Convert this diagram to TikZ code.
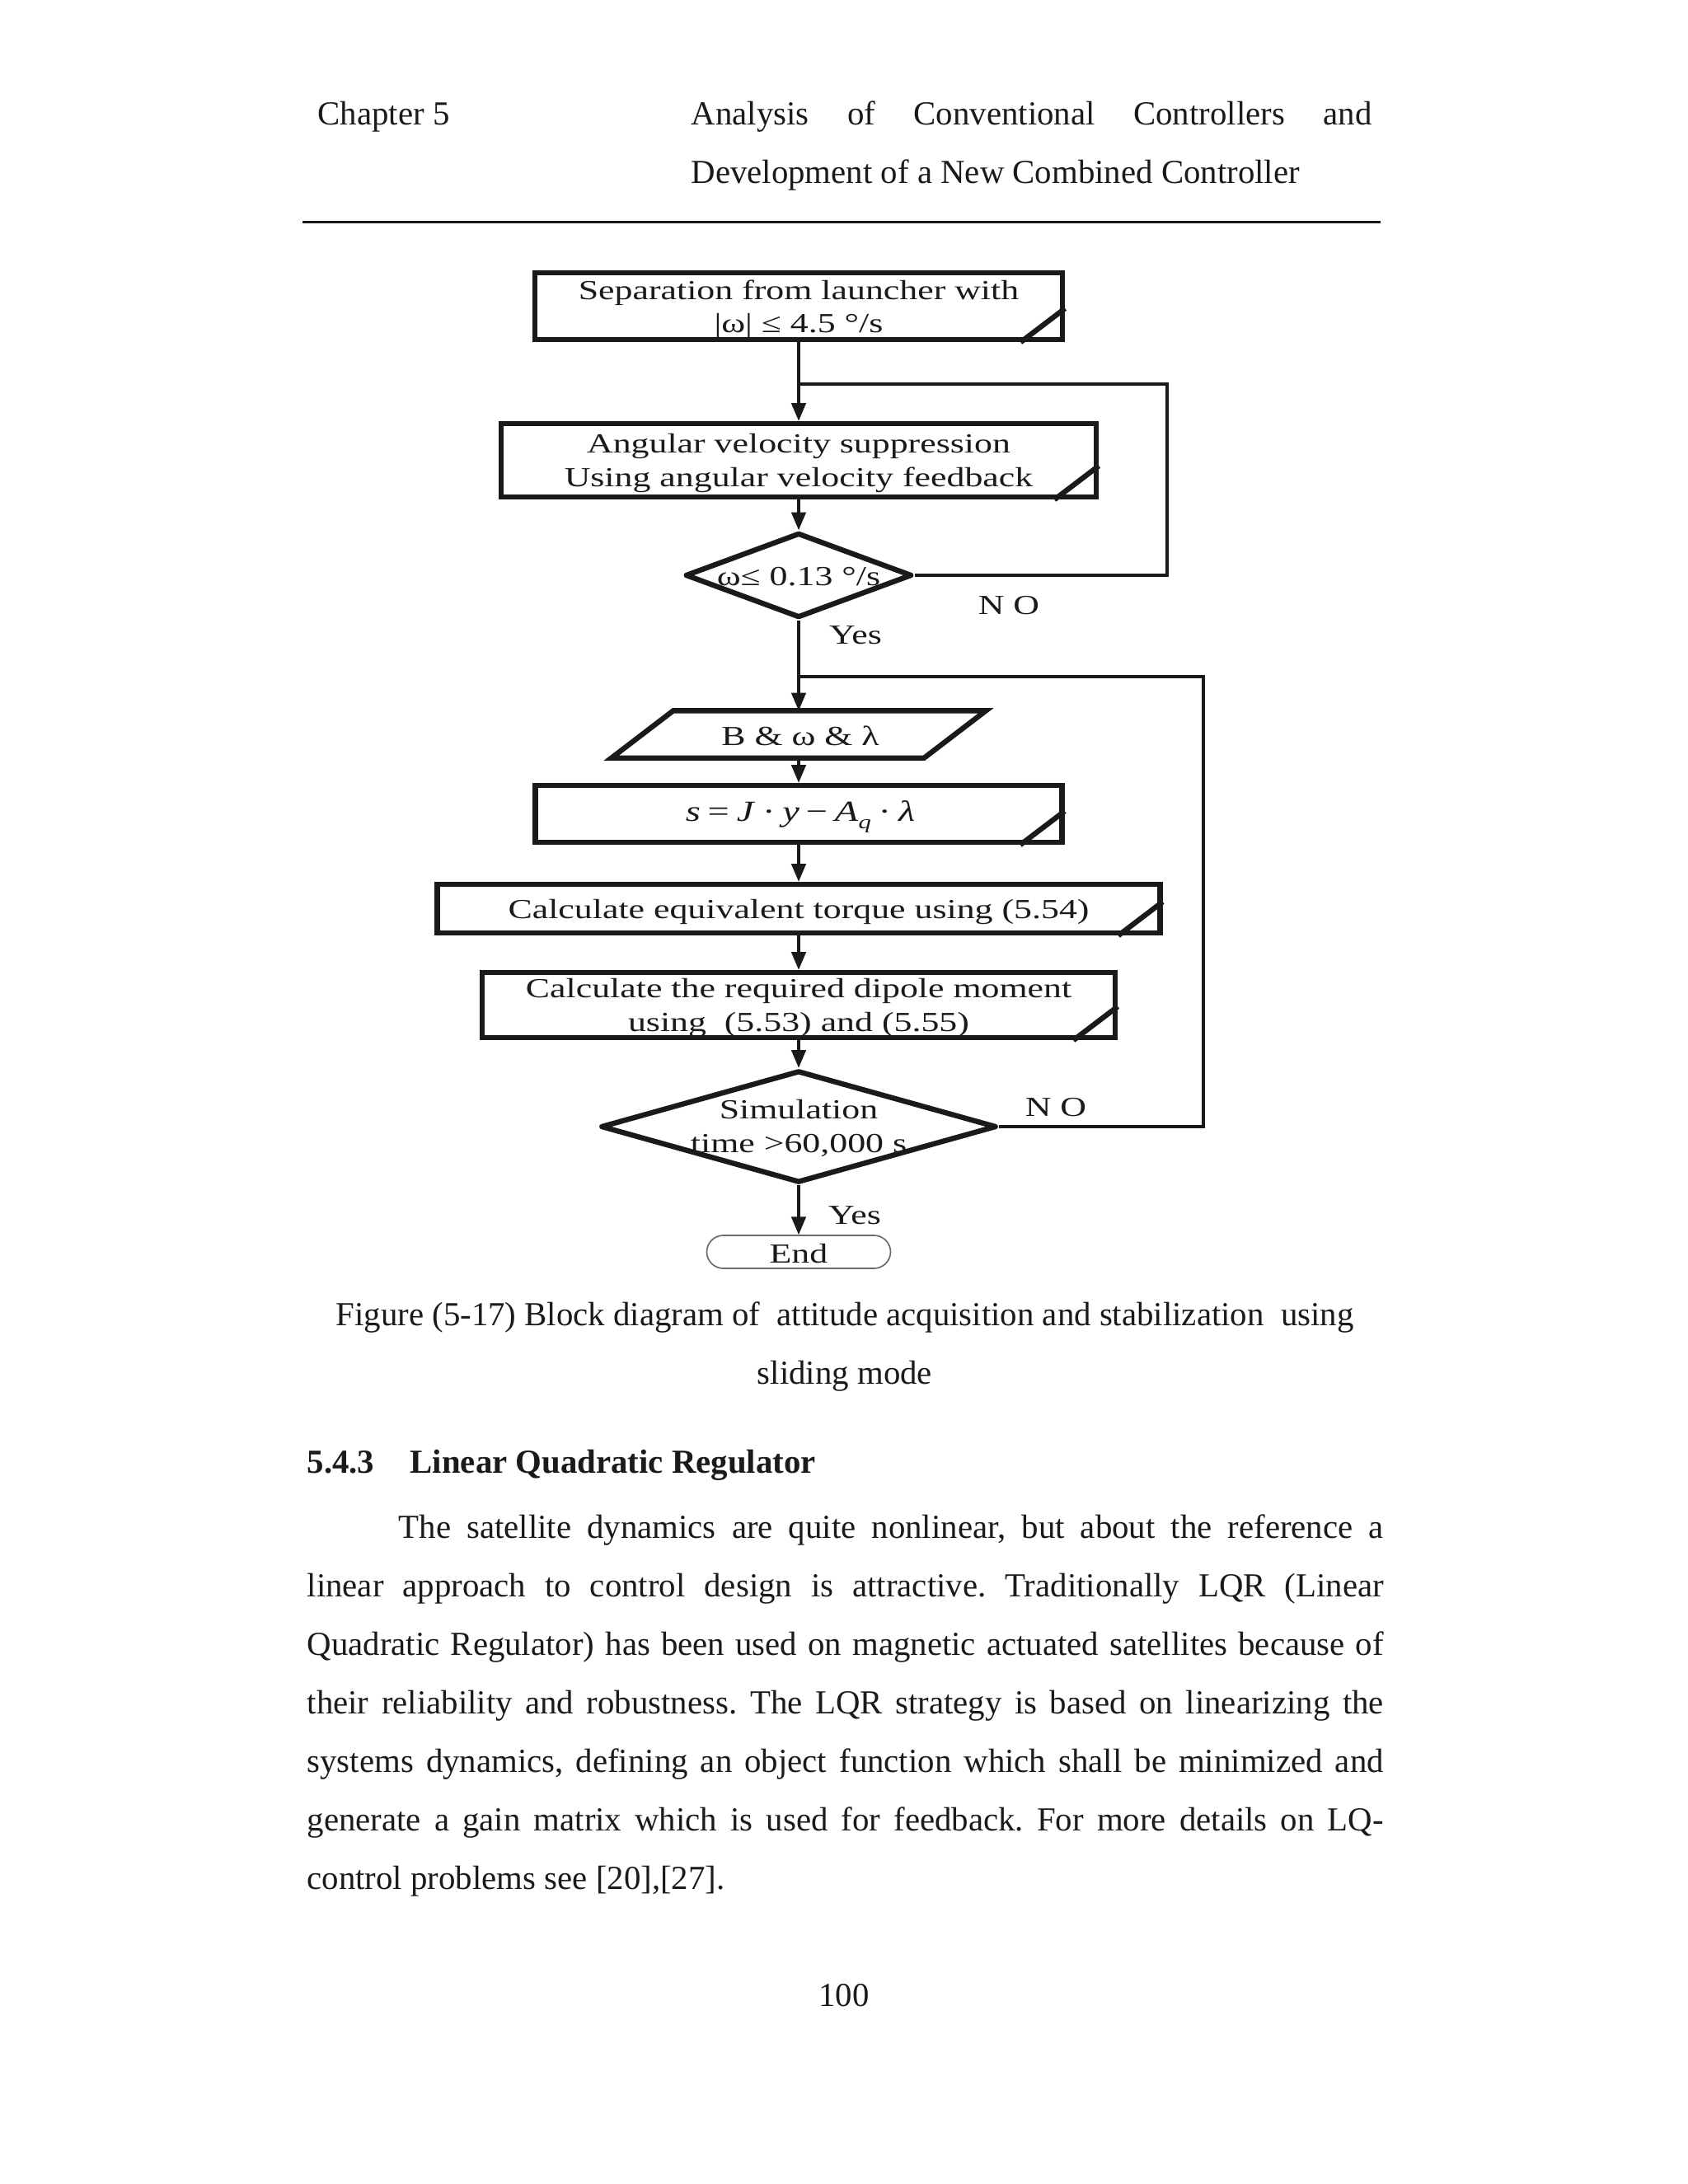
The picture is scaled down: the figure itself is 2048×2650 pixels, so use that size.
\documentclass[tikz,border=0pt]{standalone}
\usepackage{fontspec}
\setmainfont{Liberation Serif}
\newfontfamily\figfont[FakeStretch=1.31]{Liberation Serif}
\usetikzlibrary{shapes.geometric,arrows.meta,calc}
\definecolor{ink}{HTML}{1A1A1A}
\def\pu{0.298828pt}
\frenchspacing
\newcommand{\cornermark}[1]{\draw[shapeline, line cap=butt] ([xshift=-16.1pt]#1.south east) -- ([yshift=12.25pt]#1.south east);}
\tikzset{
  shapeline/.style={draw=ink, line width=1.9pt},
  procbox/.style={shapeline, rectangle, inner sep=0pt},
  decbox/.style={shapeline, diamond, inner sep=0pt, line join=round},
  figtext/.style={inner sep=0pt, align=center, text=ink, font=\figfont\fontsize{10}{12}\selectfont},
  conn/.style={draw=ink, line width=1pt},
  arr/.style={conn, -{Triangle[length=6.5pt,width=5.2pt]}},
  endbox/.style={draw=ink!65, line width=0.5pt, rounded corners=6pt, inner sep=0pt},
  bodytext/.style={inner sep=0pt, text=ink, font=\fontsize{12.2}{14}\selectfont},
}
\begin{document}
\begin{tikzpicture}[x=0.298828pt, y=-0.298828pt]
\useasboundingbox[fill=white] (0,0) rectangle (2048,2650);

% ---------- page header ----------
\node[bodytext, anchor=base west] (hchap) at (385,151) {Chapter 5};
\node[bodytext, anchor=base west] (htitle1) at (838,151) {\makebox[246.8pt][s]{Analysis of Conventional Controllers and}};
\node[bodytext, anchor=base west] (htitle2) at (838,222) {Development of a New Combined Controller};
\coordinate (ruleL) at (367,269);
\coordinate (ruleR) at (1675,269);
\draw[ink, line width=0.9pt] (ruleL) -- (ruleR);

% ---------- flowchart ----------
\node[procbox, minimum width=640*\pu, minimum height=81*\pu] (b1) at (969,371.5) {};
\node[figtext] (b1t) at (969,375) {Separation from launcher with\\ |ω| ≤ 4.5 °/s};
\cornermark{b1}
\node[procbox, minimum width=722*\pu, minimum height=89*\pu] (b2) at (969,558.5) {};
\node[figtext] (b2t) at (969,562) {Angular velocity suppression\\ Using angular velocity feedback};
\cornermark{b2}
\node[decbox, minimum width=275*\pu, minimum height=103*\pu] (d1) at (969,698) {};
\node[figtext] (d1t) at (969,700) {ω≤ 0.13 °/s};

\node[minimum width=378*\pu, minimum height=56*\pu, inner sep=0pt] (p) at (969,891) {};
\draw[shapeline, line join=miter] ($(p.north west)+(37.5,0)$) -- ($(p.north east)+(37.5,0)$)
  -- ($(p.south east)+(-37.5,0)$) -- ($(p.south west)+(-37.5,0)$) -- cycle;
\node[figtext] (pt) at (971,893) {B \& ω \& λ};

\node[procbox, minimum width=639*\pu, minimum height=69*\pu] (b3) at (969,987.5) {};
\node[figtext, font=\figfont\fontsize{10.6}{12}\selectfont] (b3t) at (971,991)
  {\textit{s}\hspace{0.25em}=\hspace{0.25em}\textit{J}\hspace{0.25em}·\hspace{0.25em}\textit{y}\hspace{0.22em}−\hspace{0.25em}\textit{A}\raisebox{-0.5ex}{\scriptsize\textit{q}}\hspace{0.25em}·\hspace{0.25em}\textit{λ}};
\cornermark{b3}
\node[procbox, minimum width=877*\pu, minimum height=59*\pu] (b4) at (969,1102.5) {};
\node[figtext] (b4t) at (969,1106) {Calculate equivalent torque using (5.54)};
\cornermark{b4}
\node[procbox, minimum width=768*\pu, minimum height=79*\pu] (b5) at (969,1219.5) {};
\node[figtext] (b5t) at (969,1223) {Calculate the required dipole moment\\ using\ \ (5.53) and (5.55)};
\cornermark{b5}
\node[decbox, minimum width=480*\pu, minimum height=136*\pu] (d2) at (969,1367) {};
\node[figtext] (d2t) at (969,1369) {Simulation\\ time >60,000 s};
\node[endbox, minimum width=223*\pu, minimum height=40*\pu] (e) at (969,1519) {};
\node[figtext] (et) at (969,1521) {End};

% connectors
\draw[arr] (b1.south) -- (b2.north);
\draw[arr] (b2.south) -- (d1.north);
\draw[arr] (d1.south) -- (p.north);
\draw[arr] (p.south) -- (b3.north);
\draw[arr] (b3.south) -- (b4.north);
\draw[arr] (b4.south) -- (b5.north);
\draw[arr] (b5.south) -- (d2.north);
\draw[arr] (d2.south) -- (e.north);

\coordinate (j1) at (969,466);
\coordinate (c1) at (1416,466);
\draw[conn] (d1.east) -| (c1) -- (j1);
\coordinate (j2) at (969,821);
\coordinate (c2) at (1460,821);
\draw[conn] (d2.east) -| (c2) -- (j2);

\node[figtext] (no1) at (1224,735) {N O};
\node[figtext] (yes1) at (1038,771) {Yes};
\node[figtext] (no2) at (1281,1344) {N O};
\node[figtext] (yes2) at (1037,1475) {Yes};

% ---------- caption ----------
\node[bodytext, anchor=base] (cap1) at (1025,1608)
  {Figure (5-17) Block diagram of\ \ attitude acquisition and stabilization\ \ using};
\node[bodytext, anchor=base] (cap2) at (1025,1679) {sliding mode};

% ---------- section ----------
\node[bodytext, anchor=base west] (sec) at (372,1787)
  {\bfseries\makebox[37.35pt][l]{5.4.3}Linear Quadratic Regulator};

\node[bodytext, anchor=base west] (l1) at (483,1866)
  {\makebox[357.1pt][s]{The satellite dynamics are quite nonlinear, but about the reference a}};
\node[bodytext, anchor=base west] (l2) at (372,1937)
  {\makebox[390.3pt][s]{linear approach to control design is attractive. Traditionally LQR (Linear}};
\node[bodytext, anchor=base west] (l3) at (372,2008)
  {\makebox[390.3pt][s]{Quadratic Regulator) has been used on magnetic actuated satellites because of}};
\node[bodytext, anchor=base west] (l4) at (372,2079)
  {\makebox[390.3pt][s]{their reliability and robustness. The LQR strategy is based on linearizing the}};
\node[bodytext, anchor=base west] (l5) at (372,2150)
  {\makebox[390.3pt][s]{systems dynamics, defining an object function which shall be minimized and}};
\node[bodytext, anchor=base west] (l6) at (372,2221)
  {\makebox[390.3pt][s]{generate a gain matrix which is used for feedback. For more details on LQ-}};
\node[bodytext, anchor=base west] (l7) at (372,2292)
  {control problems see [20],[27].};

\node[bodytext, anchor=base] (pg) at (1024,2434) {100};
\end{tikzpicture}
\end{document}
